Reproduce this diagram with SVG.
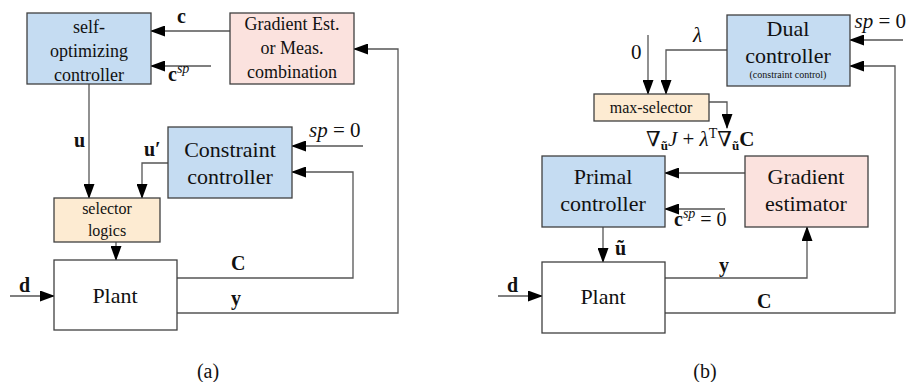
<svg xmlns="http://www.w3.org/2000/svg" width="906" height="382" viewBox="0 0 906 382" font-family="'Liberation Serif', 'DejaVu Serif', 'Noto Serif', 'Times New Roman', Times, serif">
<style>
.box{stroke:#404040;stroke-width:1.3}
.blue{fill:#c5dcf2}
.pink{fill:#fbe2de}
.tan{fill:#fdebd2}
.white{fill:#fff}
.ln{fill:none;stroke:#555;stroke-width:1.3}
text{fill:#111}
.t{text-anchor:middle}
.b{font-weight:bold}
.i{font-style:italic}
</style>
<defs>
<marker id="ah" markerWidth="15" markerHeight="11" refX="14" refY="5.5" orient="auto" markerUnits="userSpaceOnUse"><path d="M0,0 L15,5.5 L0,11 z" fill="#000"/></marker>
</defs>
<rect width="906" height="382" fill="#fff"/>

<g id="connectors">
<path class="ln" d="M230,31 H151" marker-end="url(#ah)"/>
<path class="ln" d="M211,66 H151" marker-end="url(#ah)"/>
<path class="ln" d="M177,313 H398 V49 H354" marker-end="url(#ah)"/>
<path class="ln" d="M177,278 H353 V172 H292" marker-end="url(#ah)"/>
<path class="ln" d="M363,146 H292" marker-end="url(#ah)"/>
<path class="ln" d="M89,84 V198" marker-end="url(#ah)"/>
<path class="ln" d="M168,163 H142 V198" marker-end="url(#ah)"/>
<path class="ln" d="M116,242 V260" marker-end="url(#ah)"/>
<path class="ln" d="M10,296 H54" marker-end="url(#ah)"/>

<path class="ln" d="M903,40 H850" marker-end="url(#ah)"/>
<path class="ln" d="M665,313 H895 V66 H850" marker-end="url(#ah)"/>
<path class="ln" d="M727,50 H666 V94" marker-end="url(#ah)"/>
<path class="ln" d="M648,35 V94" marker-end="url(#ah)"/>
<path class="ln" d="M709,102 H727 V128" marker-end="url(#ah)"/>
<path class="ln" d="M745,173 H665" marker-end="url(#ah)"/>
<path class="ln" d="M725,209 H665" marker-end="url(#ah)"/>
<path class="ln" d="M603,227 V262" marker-end="url(#ah)"/>
<path class="ln" d="M665,278 H807 V227" marker-end="url(#ah)"/>
<path class="ln" d="M498,296 H542" marker-end="url(#ah)"/>
</g>

<g id="self-optimizing-controller">
<rect class="box blue" x="27" y="13" width="124" height="71"/>
<text class="t" x="89" y="33" font-size="18">self-</text>
<text class="t" x="89" y="57" font-size="18">optimizing</text>
<text class="t" x="89" y="81" font-size="18">controller</text>
</g>
<g id="gradient-est">
<rect class="box pink" x="230" y="13" width="124" height="71"/>
<text class="t" x="292" y="30" font-size="18">Gradient Est.</text>
<text class="t" x="292" y="54" font-size="18">or Meas.</text>
<text class="t" x="292" y="78" font-size="18">combination</text>
</g>
<g id="constraint-controller">
<rect class="box blue" x="168" y="127" width="124" height="71"/>
<text class="t" x="230" y="157" font-size="22">Constraint</text>
<text class="t" x="230" y="184" font-size="22">controller</text>
</g>
<g id="selector-logics">
<rect class="box tan" x="54" y="198" width="106" height="44"/>
<text class="t" x="107" y="214" font-size="16">selector</text>
<text class="t" x="107" y="236" font-size="16">logics</text>
</g>
<g id="plant-a">
<rect class="box white" x="54" y="260" width="123" height="70"/>
<text class="t" x="115" y="303" font-size="22">Plant</text>
</g>

<g id="dual-controller">
<rect class="box blue" x="727" y="15" width="123" height="71"/>
<text class="t" x="788" y="36" font-size="22">Dual</text>
<text class="t" x="788" y="63" font-size="22">controller</text>
<text class="t" x="788" y="78" font-size="10">(constraint control)</text>
</g>
<g id="max-selector">
<rect class="box tan" x="594" y="94" width="115" height="27"/>
<text class="t" x="651" y="113" font-size="16">max-selector</text>
</g>
<g id="primal-controller">
<rect class="box blue" x="542" y="156" width="123" height="71"/>
<text class="t" x="603" y="184" font-size="22">Primal</text>
<text class="t" x="603" y="211" font-size="22">controller</text>
</g>
<g id="gradient-estimator">
<rect class="box pink" x="745" y="156" width="123" height="71"/>
<text class="t" x="806" y="184" font-size="22">Gradient</text>
<text class="t" x="806" y="211" font-size="22">estimator</text>
</g>
<g id="plant-b">
<rect class="box white" x="542" y="262" width="123" height="71"/>
<text class="t" x="603" y="304" font-size="22">Plant</text>
</g>

<g id="labels">
<text class="b" x="177" y="23" font-size="20">c</text>
<text x="168" y="81" font-size="20"><tspan class="b">c</tspan><tspan class="i" font-size="14" dy="-8">sp</tspan></text>
<text class="b" x="74" y="147" font-size="20">u</text>
<text class="b" x="144" y="156" font-size="20">u′</text>
<text x="309" y="137" font-size="21"><tspan class="i">sp</tspan> = 0</text>
<text class="b" x="231" y="270" font-size="20">C</text>
<text class="b" x="231" y="305" font-size="20">y</text>
<text class="b" x="19" y="292" font-size="20">d</text>
<text class="t" x="208" y="378" font-size="20">(a)</text>

<text x="631" y="59" font-size="21">0</text>
<text class="i" x="693" y="42" font-size="21">λ</text>
<text x="906" y="28" font-size="21" text-anchor="end"><tspan class="i">sp</tspan> = 0</text>
<text x="646" y="146" font-size="21">∇<tspan class="b" font-size="13" dy="4">ũ</tspan><tspan class="i" dy="-4">J</tspan> + <tspan class="i">λ</tspan><tspan font-size="14" dy="-8">T</tspan><tspan dy="8">∇</tspan><tspan class="b" font-size="13" dy="4">ũ</tspan><tspan class="b" dy="-4">C</tspan></text>
<text x="674" y="226" font-size="20"><tspan class="b">c</tspan><tspan class="i" font-size="14" dy="-8">sp</tspan><tspan dy="8"> = 0</tspan></text>
<text class="b" x="615" y="255" font-size="20">ũ</text>
<text class="b" x="719" y="272" font-size="20">y</text>
<text class="b" x="757" y="308" font-size="20">C</text>
<text class="b" x="507" y="292" font-size="20">d</text>
<text class="t" x="705" y="378" font-size="20">(b)</text>
</g>
</svg>
